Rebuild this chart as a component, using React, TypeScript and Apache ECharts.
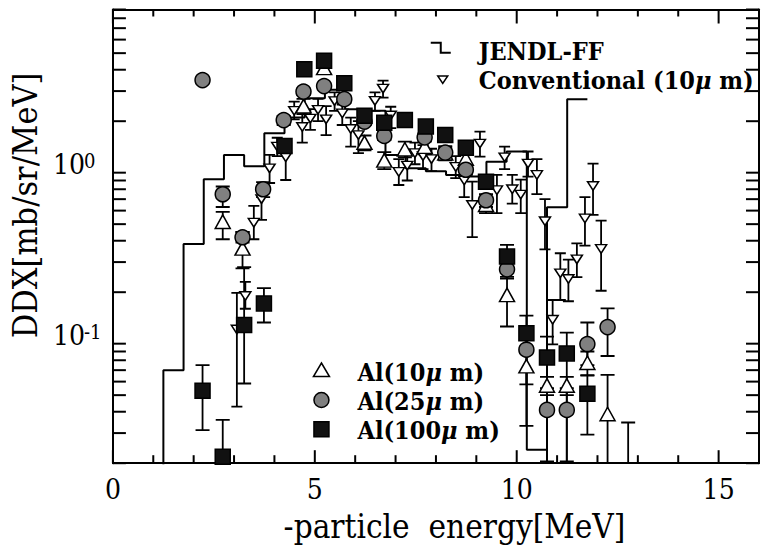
import React, { useEffect, useRef } from 'react';
import * as echarts from 'echarts';

const FONT = 'DejaVu Serif Condensed';

const X_MIN = 0;
const X_MAX = 16;
const Y_MIN = 0.02;
const Y_MAX = 9;
const xTickValues = [0, 1, 2, 3, 4, 5, 6, 7, 8, 9, 10, 11, 12, 13, 14, 15, 16];
const yTickValues = [
  0.02, 0.03, 0.04, 0.05, 0.06, 0.07, 0.08, 0.09,
  0.1, 0.2, 0.3, 0.4, 0.5, 0.6, 0.7, 0.8, 0.9,
  1, 2, 3, 4, 5, 6, 7, 8, 9,
];

const jendlEdges = [0.75, 1.25, 1.75, 2.25, 2.75, 3.25, 3.75, 4.25, 4.75, 5.25, 5.75, 6.25, 6.75, 7.25, 7.75, 8.25, 8.75, 9.25, 9.75, 10.25, 10.75, 11.25, 11.75];
const jendlValues = [0.005, 0.07, 0.383, 0.915, 1.27, 1.09, 1.7, 2.1, 2.72, 3.05, 2.35, 2.3, 1.27, 1.06, 1.02, 0.97, 0.95, 1.16, 1.33, 0.024, 0.628, 2.69, 2.69];

const convX = [3.07, 3.28, 3.49, 3.68, 3.88, 4.07, 4.28, 4.49, 4.69, 4.89, 5.08, 5.28, 5.49, 5.68, 5.89, 6.08, 6.49, 6.69, 6.88, 7.08, 7.29, 7.48, 7.68, 7.89, 8.49, 8.7, 8.9, 9.09, 9.51, 9.7, 9.89, 10.1, 10.28, 10.5, 10.7, 10.89, 11.08, 11.28, 11.49, 11.69, 11.89, 12.09];
const convY = [0.121, 0.19, 0.51, 0.7, 1.06, 1.42, 1.23, 2.3, 1.85, 2.07, 2.33, 2.05, 2.62, 2.22, 1.8, 1.66, 2.63, 3.1, 2.16, 1.01, 1.1, 1.3, 1.25, 1.2, 1.08, 0.9, 0.647, 1.48, 0.79, 1.23, 0.8, 0.745, 1.13, 0.97, 0.52, 0.138, 0.258, 0.239, 0.311, 0.54, 0.836, 0.358];
const convLo = [0.0428, 0.16, 0.408, 0.53, 0.87, 1.25, 0.906, 2.05, 1.5, 1.78, 2.0, 1.66, 2.3, 1.9, 1.42, 1.3, 2.3, 2.75, 1.82, 0.847, 0.9, 1.12, 1.05, 1.02, 0.93, 0.72, 0.42, 1.24, 0.58, 1.05, 0.66, 0.58, 0.947, 0.75, 0.356, 0.099, 0.18, 0.177, 0.245, 0.374, 0.566, 0.204];
const convHi = [0.198, 0.23, 0.64, 0.81, 1.27, 1.6, 1.41, 2.6, 2.2, 2.35, 2.7, 2.45, 2.95, 2.5, 2.1, 2.0, 2.95, 3.45, 2.43, 1.2, 1.3, 1.5, 1.45, 1.38, 1.25, 1.1, 0.886, 1.74, 0.97, 1.42, 0.97, 0.91, 1.33, 1.2, 0.7, 0.18, 0.338, 0.31, 0.386, 0.72, 1.13, 0.524];

const al10X = [2.72, 3.21, 4.72, 5.23, 6.23, 6.72, 7.23, 7.72, 8.23, 8.74, 9.24, 9.76, 10.24, 10.75, 11.24, 11.75, 12.25, 12.76];
const al10Y = [0.517, 0.361, 2.45, 4.1, 1.5, 1.18, 1.37, 1.42, 1.3, 1.21, 0.65, 0.193, 0.0739, 0.057, 0.057, 0.0773, 0.0388, 0.015];
const al10Lo = [0.408, 0.276, 2.2, 3.8, 1.35, 1.05, 1.23, 1.28, 1.18, 1.1, 0.58, 0.126, 0.0331, 0.05, 0.05, 0.065, 0.01, 0.005];
const al10Hi = [0.59, 0.45, 2.7, 4.4, 1.65, 1.32, 1.52, 1.56, 1.43, 1.33, 0.72, 0.246, 0.09, 0.064, 0.064, 0.09, 0.0657, 0.0346];

const al25X = [2.22, 2.72, 3.21, 3.72, 4.23, 4.72, 5.23, 5.73, 6.23, 6.72, 7.72, 8.23, 8.74, 9.24, 9.76, 10.24, 10.75, 11.24, 11.75, 12.25];
const al25Y = [3.48, 0.748, 0.419, 0.8, 2.03, 2.98, 3.21, 2.69, 1.99, 1.64, 1.61, 1.31, 1.04, 0.69, 0.272, 0.0922, 0.041, 0.041, 0.0995, 0.125];
const al25Lo = [3.35, 0.63, 0.39, 0.72, 1.9, 2.85, 3.08, 2.56, 1.9, 1.55, 1.52, 1.23, 0.97, 0.63, 0.24, 0.0578, 0.01, 0.01, 0.075, 0.0847];
const al25Hi = [3.6, 0.83, 0.45, 0.88, 2.15, 3.1, 3.35, 2.82, 2.08, 1.74, 1.7, 1.4, 1.12, 0.75, 0.3, 0.12, 0.055, 0.055, 0.133, 0.161];

const al100X = [2.22, 2.72, 3.25, 3.74, 4.25, 4.74, 5.23, 5.73, 6.23, 6.72, 7.23, 7.75, 8.23, 8.74, 9.24, 9.76, 10.24, 10.75, 11.24, 11.75];
const al100Y = [0.0531, 0.0218, 0.1285, 0.172, 1.43, 4.02, 4.52, 3.33, 2.15, 1.96, 2.03, 1.86, 1.66, 1.4, 0.886, 0.323, 0.115, 0.083, 0.0877, 0.051];
const al100Lo = [0.0312, 0.01, 0.0585, 0.133, 1.36, 3.85, 4.35, 3.2, 2.07, 1.88, 1.95, 1.79, 1.59, 1.34, 0.84, 0.28, 0.09, 0.0205, 0.0205, 0.0294];
const al100Hi = [0.075, 0.0358, 0.28, 0.211, 1.5, 4.2, 4.7, 3.46, 2.23, 2.04, 2.11, 1.93, 1.73, 1.46, 0.94, 0.378, 0.146, 0.11, 0.116, 0.0655];

const NAME_JENDL = 'JENDL-FF';
const NAME_CONV = 'Conventional (10μ m)';
const NAME_AL10 = 'Al(10μ m)';
const NAME_AL25 = 'Al(25μ m)';
const NAME_AL100 = 'Al(100μ m)';

function legendTextStyle(size: number) {
  return {
    fontFamily: FONT,
    fontSize: size,
    fontWeight: 'bold' as const,
    color: '#000',
    lineHeight: 29,
    rich: {
      mu: { fontFamily: FONT, fontSize: size, fontWeight: 'bold' as const, fontStyle: 'italic' as const, color: '#000', lineHeight: 29 },
    },
  };
}
const legendFormatter = (name: string) => name.replace('μ', '{mu|μ}');

function errorSeries(xs: number[], lo: number[], hi: number[], half: number) {
  return {
    type: 'custom',
    silent: true,
    clip: true,
    z: 2,
    data: xs.map((x, i) => [x, lo[i], hi[i]]),
    encode: { x: 0, y: [1, 2] },
    renderItem: (_p: any, api: any) => {
      const x = api.value(0);
      const a = api.coord([x, api.value(1)]);
      const b = api.coord([x, api.value(2)]);
      const st = { stroke: '#000', lineWidth: 1.8 };
      return {
        type: 'group',
        children: [
          { type: 'line', shape: { x1: a[0], y1: a[1], x2: b[0], y2: b[1] }, style: st },
          { type: 'line', shape: { x1: a[0] - half, y1: a[1], x2: a[0] + half, y2: a[1] }, style: st },
          { type: 'line', shape: { x1: b[0] - half, y1: b[1], x2: b[0] + half, y2: b[1] }, style: st },
        ],
      };
    },
  };
}

function buildOption() {
  const tickStyle = { stroke: '#000', lineWidth: 2 };
  return {
    animation: false,
    backgroundColor: '#fff',
    grid: { left: 111.7, right: -5.7, top: 9.5, bottom: 85.8, containLabel: false },
    legend: [
      {
        orient: 'vertical',
        left: 420,
        top: 37,
        padding: 0,
        itemGap: 0,
        itemWidth: 53,
        itemHeight: 22,
        selectedMode: false,
        textStyle: legendTextStyle(25),
        formatter: legendFormatter,
        data: [
          {
            name: NAME_JENDL,
            icon: 'path://M0,0 M53,22 M10,1.2 L21,1.2 L21,11.2 L30,11.2 L30,13.2 L19,13.2 L19,3.2 L10,3.2 Z',
            itemStyle: { color: '#000', borderWidth: 0 },
          },
          {
            name: NAME_CONV,
            icon: 'path://M0,0 M53,22 M17,6.5 L27,6.5 L22,14 Z',
            itemStyle: { color: '#fff', borderColor: '#000', borderWidth: 1.5 },
          },
        ],
      },
      {
        orient: 'vertical',
        left: 289.7,
        top: 358,
        padding: 0,
        itemGap: 0,
        itemWidth: 62,
        itemHeight: 22,
        selectedMode: false,
        textStyle: legendTextStyle(25),
        formatter: legendFormatter,
        data: [
          {
            name: NAME_AL10,
            icon: 'path://M0,0 M62,22 M31,1.5 L39,15 L23,15 Z',
            itemStyle: { color: '#fff', borderColor: '#000', borderWidth: 1.5 },
          },
          {
            name: NAME_AL25,
            icon: 'path://M0,0 M62,22 M23.5,9.5 A7.5,7.5 0 1,1 38.5,9.5 A7.5,7.5 0 1,1 23.5,9.5 Z',
            itemStyle: { color: '#808080', borderColor: '#000', borderWidth: 1.5 },
          },
          {
            name: NAME_AL100,
            icon: 'path://M0,0 M62,22 M23.5,2.3 L38.5,2.3 L38.5,17.3 L23.5,17.3 Z',
            itemStyle: { color: '#111', borderColor: '#000', borderWidth: 1.5 },
          },
        ],
      },
    ],
    xAxis: [
      {
        type: 'value',
        min: X_MIN,
        max: X_MAX,
        interval: 5,
        position: 'bottom',
        axisLine: { show: true, onZero: false, lineStyle: { color: '#000', width: 2 } },
        axisTick: { show: false },
        minorTick: { show: false },
        splitLine: { show: false },
        axisLabel: {
          fontFamily: FONT,
          fontSize: 28,
          lineHeight: 28,
          color: '#000',
          margin: 12,
          formatter: (v: number) => (v % 5 === 0 ? String(v) : ''),
        },
        name: '-particle  energy[MeV]',
        nameLocation: 'middle',
        nameGap: 47,
        nameTextStyle: { fontFamily: FONT, fontSize: 33, lineHeight: 33, color: '#000', padding: [0, 0, 0, 37] },
      },
      {
        type: 'value',
        min: X_MIN,
        max: X_MAX,
        interval: 5,
        position: 'top',
        axisLine: { show: true, onZero: false, lineStyle: { color: '#000', width: 2 } },
        axisTick: { show: false },
        axisLabel: { show: false },
        splitLine: { show: false },
      },
    ],
    yAxis: [
      {
        type: 'log',
        logBase: 10,
        min: Y_MIN,
        max: Y_MAX,
        position: 'left',
        axisLine: { show: true, onZero: false, lineStyle: { color: '#000', width: 2 } },
        axisTick: { show: false },
        minorTick: { show: false },
        splitLine: { show: false },
        axisLabel: {
          margin: 8,
          padding: [0, 0, 16, 0],
          fontFamily: FONT,
          formatter: (v: number) => {
            const e = Math.log10(v);
            const r = Math.round(e);
            if (Math.abs(e - r) > 1e-6) return '';
            return '{b|10}{s|' + r + '}';
          },
          rich: {
            b: { fontFamily: FONT, fontSize: 28, lineHeight: 28, width: 31, align: 'left', color: '#000', verticalAlign: 'bottom', padding: [8, 0, 0, 0] },
            s: { fontFamily: FONT, fontSize: 20, lineHeight: 20, color: '#000', verticalAlign: 'top', width: 21, align: 'left', padding: [0, 0, 0, 0] },
          },
        },
        name: 'DDX[mb/sr/MeV]',
        nameLocation: 'middle',
        nameGap: 56,
        nameTextStyle: { fontFamily: FONT, fontSize: 34, lineHeight: 34, color: '#000', padding: [0, 0, 0, 62] },
      },
      {
        type: 'log',
        logBase: 10,
        min: Y_MIN,
        max: Y_MAX,
        position: 'right',
        axisLine: { show: true, onZero: false, lineStyle: { color: '#000', width: 2 } },
        axisTick: { show: false },
        axisLabel: { show: false },
        splitLine: { show: false },
      },
    ],
    series: [
      {
        type: 'custom',
        silent: true,
        clip: false,
        z: 5,
        data: xTickValues.map((v) => [v, Y_MIN]),
        encode: { x: 0, y: 1 },
        renderItem: (_p: any, api: any) => {
          const v = api.value(0);
          const b = api.coord([v, Y_MIN]);
          const t = api.coord([v, Y_MAX]);
          const major = v % 5 === 0;
          const lb = major ? 13 : 8;
          const lt = major ? 14 : 7;
          return {
            type: 'group',
            children: [
              { type: 'line', shape: { x1: b[0], y1: b[1], x2: b[0], y2: b[1] - lb }, style: tickStyle },
              { type: 'line', shape: { x1: t[0], y1: t[1], x2: t[0], y2: t[1] + lt }, style: tickStyle },
            ],
          };
        },
      },
      {
        type: 'custom',
        silent: true,
        clip: false,
        z: 5,
        data: yTickValues.map((v) => [X_MIN, v]),
        encode: { x: 0, y: 1 },
        renderItem: (_p: any, api: any) => {
          const v = api.value(1);
          const l = api.coord([X_MIN, v]);
          const r = api.coord([X_MAX, v]);
          return {
            type: 'group',
            children: [
              { type: 'line', shape: { x1: l[0], y1: l[1], x2: l[0] + 13, y2: l[1] }, style: tickStyle },
              { type: 'line', shape: { x1: r[0] - 13, y1: r[1], x2: r[0], y2: r[1] }, style: tickStyle },
            ],
          };
        },
      },
      {
        name: NAME_JENDL,
        type: 'line',
        step: 'end',
        symbol: 'none',
        clip: true,
        z: 2,
        data: jendlEdges.map((x, i) => [x, jendlValues[i]]),
        lineStyle: { color: '#000', width: 2 },
        itemStyle: { color: '#000' },
      },
      errorSeries(convX, convLo, convHi, 5.5),
      errorSeries(al10X, al10Lo, al10Hi, 7),
      errorSeries(al25X, al25Lo, al25Hi, 7),
      errorSeries(al100X, al100Lo, al100Hi, 7),
      {
        name: NAME_CONV,
        type: 'scatter',
        z: 3,
        symbol: 'triangle',
        symbolRotate: 180,
        symbolSize: [11, 8.5],
        data: convX.map((x, i) => [x, convY[i]]),
        itemStyle: { color: '#fff', borderColor: '#000', borderWidth: 1.5, opacity: 1 },
      },
      {
        name: NAME_AL10,
        type: 'scatter',
        z: 3,
        symbol: 'triangle',
        symbolSize: [15, 13.5],
        data: al10X.map((x, i) => [x, al10Y[i]]),
        itemStyle: { color: '#fff', borderColor: '#000', borderWidth: 1.5, opacity: 1 },
      },
      {
        name: NAME_AL25,
        type: 'scatter',
        z: 3,
        symbol: 'circle',
        symbolSize: 15,
        data: al25X.map((x, i) => [x, al25Y[i]]),
        itemStyle: { color: '#808080', borderColor: '#000', borderWidth: 1.5, opacity: 1 },
      },
      {
        name: NAME_AL100,
        type: 'scatter',
        z: 3,
        symbol: 'rect',
        symbolSize: 15,
        data: al100X.map((x, i) => [x, al100Y[i]]),
        itemStyle: { color: '#111', borderColor: '#000', borderWidth: 1.5, opacity: 1 },
      },
    ],
  };
}

export default function App() {
  const ref = useRef<HTMLDivElement>(null);
  useEffect(() => {
    if (!ref.current) return;
    const chart = echarts.init(ref.current, null, { renderer: 'svg' });
    chart.setOption(buildOption() as any);
    return () => chart.dispose();
  }, []);
  return (
    <div
      ref={ref}
      style={{ position: 'fixed', left: 0, top: 0, width: 762, height: 549, background: '#fff' }}
    />
  );
}
